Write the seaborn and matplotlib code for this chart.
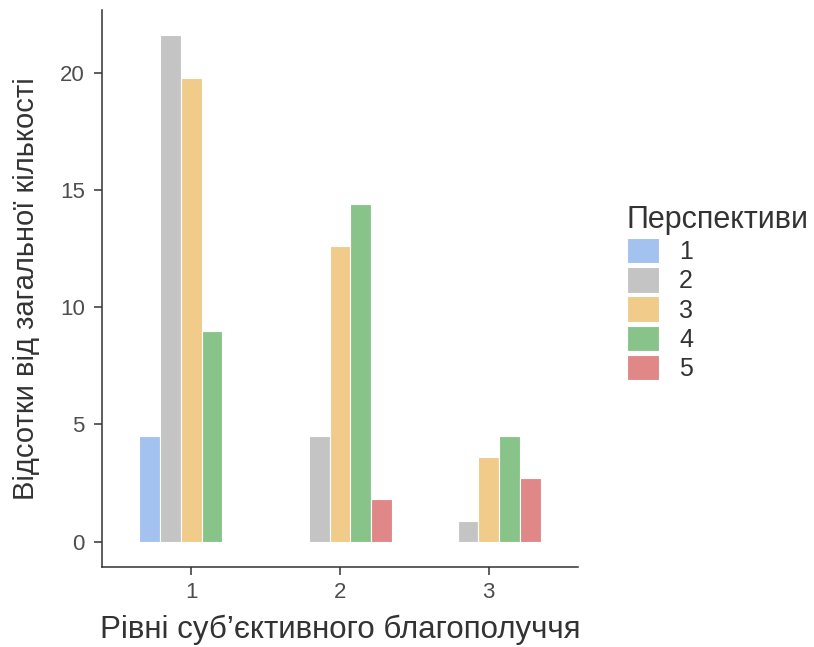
import matplotlib
matplotlib.use("Agg")
import matplotlib.pyplot as plt
import seaborn as sns
import pandas as pd

# Percentages of respondents by well-being level and perspective group
levels = ["1", "1", "1", "1", "2", "2", "2", "2", "3", "3", "3", "3"]
perspectives = ["1", "2", "3", "4", "2", "3", "4", "5", "2", "3", "4", "5"]
percents = [4.5, 21.6, 19.8, 9.0, 4.5, 12.6, 14.4, 1.8, 0.9, 3.6, 4.5, 2.7]

level_order = ["1", "2", "3"]
hue_order = ["1", "2", "3", "4", "5"]
palette = ["#a4c2f0", "#c4c4c4", "#f0cb8a", "#88c48a", "#e08888"]

df = pd.DataFrame({"level": levels, "persp": perspectives, "pct": percents})

sns.set_theme(style="ticks")
plt.rcParams["font.family"] = ["Liberation Sans", "DejaVu Sans"]

fig = plt.figure(figsize=(8.14, 6.47), dpi=100)
ax = fig.add_axes([102 / 814, 80 / 647, 476 / 814, 557 / 647])
fig.patch.set_facecolor("white")
ax.set_facecolor("white")

sns.barplot(data=df, x="level", y="pct", hue="persp", order=level_order,
            hue_order=hue_order, palette=palette, width=0.7, dodge=True,
            edgecolor="white", linewidth=0.8, saturation=1, ax=ax)

ax.set_xlim(-0.6, 2.6)
ax.set_ylim(-1.08, 22.68)
ax.set_yticks([0, 5, 10, 15, 20])
ax.set_yticklabels(["0", "5", "10", "15", "20"])

for side in ["top", "right"]:
    ax.spines[side].set_visible(False)
for side in ["left", "bottom"]:
    ax.spines[side].set_color("#333333")
    ax.spines[side].set_linewidth(1.1)
ax.tick_params(axis="both", which="both", direction="out", length=5.5, width=1.1,
               color="#333333", labelcolor="#4d4d4d", labelsize=16,
               top=False, right=False)
ax.tick_params(axis="x", pad=5)
ax.tick_params(axis="y", pad=7)
ax.grid(False)

ax.set_xlabel("Рівні суб’єктивного благополуччя", fontsize=22.5, color="#333333", labelpad=9)
ax.set_ylabel("Відсотки від загальної кількості", fontsize=21, color="#333333", labelpad=14)

leg = ax.legend(title="Перспективи", loc="center left", bbox_to_anchor=(1.055, 0.492),
                frameon=False, fontsize=18, title_fontsize=22, handlelength=1.3,
                handleheight=1.2, labelspacing=0.12, handletextpad=0.8)
leg._legend_box.align = "left"
leg.get_title().set_color("#333333")
for t in leg.get_texts():
    t.set_color("#333333")

fig.savefig("out.png", dpi=100, facecolor="white")
